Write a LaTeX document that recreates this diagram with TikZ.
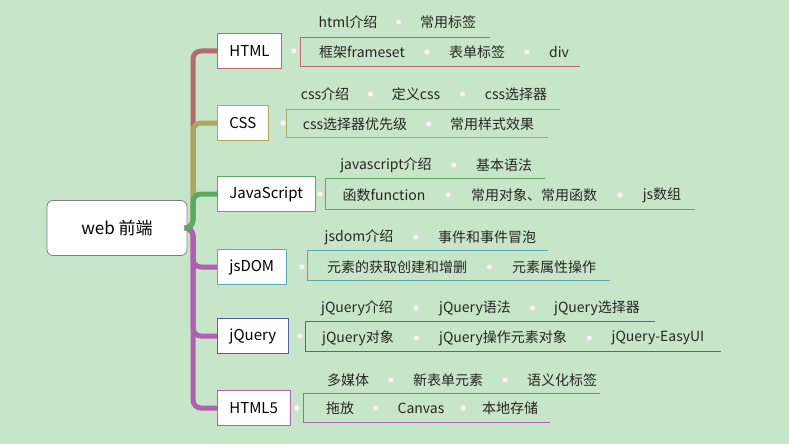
\documentclass[tikz,border=0pt]{standalone}
\usepackage{fontspec}
\setmainfont{Noto Sans CJK SC}
\usetikzlibrary{positioning, calc}
\definecolor{bgc}{HTML}{C7E5C8}
\definecolor{cHtml}{HTML}{B86A6A}
\definecolor{cCss}{HTML}{ABA860}
\definecolor{cJs}{HTML}{5AAA62}
\definecolor{cDom}{HTML}{5AABAA}
\definecolor{cJq}{HTML}{5A5EA8}
\definecolor{cH5}{HTML}{B060B0}
\begin{document}
\begin{tikzpicture}[x=1pt,y=-1pt]

            % Стили
            \tikzstyle{topic} = [rectangle, draw, thick, fill=white, minimum height=35pt,
                                 inner xsep=12pt, font=\fontsize{15}{17}\selectfont, anchor=west]
            \tikzstyle{item} = [font=\fontsize{14}{16}\selectfont, text=black!85, inner sep=1pt]
            \tikzstyle{branch} = [line width=5pt, rounded corners=8pt]
            \tikzstyle{dot} = [circle, fill=gray!8!white, draw=gray!30, inner sep=0pt, minimum size=6pt]
            \newcommand{\gap}[2]{\node[dot] at ($(#1.east)!0.5!(#2.west)$) {};}

            % Фон
            \fill[bgc] (0,0) rectangle (789,444);
            \useasboundingbox (0,0) rectangle (789,444);

            % Корень
            \node[rectangle, draw=gray, thick, fill=white, rounded corners=6pt,
                  minimum width=140pt, minimum height=55pt, font=\fontsize{17}{19}\selectfont]
                  (root) at (117,228) {web 前端};

            % Темы
            \node[topic, draw=cHtml] (html) at (217,51) {HTML};
            \node[topic, draw=cCss] (css) at (217,123) {CSS};
            \node[topic, draw=cJs] (js) at (217,194) {JavaScript};
            \node[topic, draw=cDom] (dom) at (217,267) {jsDOM};
            \node[topic, draw=cJq] (jq) at (217,336) {jQuery};
            \node[topic, draw=cH5] (h5) at (217,408) {HTML5};

            % Ветви
            \draw[branch, cH5] (root.east) -- (193,228) |- (h5.west);
            \draw[branch, cH5] (root.east) -- (193,228) |- (jq.west);
            \draw[branch, cH5] (root.east) -- (193,228) |- (dom.west);
            \draw[branch, cHtml] (root.east) -- (193,228) |- (html.west);
            \draw[branch, cCss] (root.east) -- (193,228) |- (css.west);
            \draw[branch, cJs] (root.east) -- (193,228) |- (js.west);

            % HTML
            \coordinate (htmlA) at (300,37);
            \coordinate (htmlB) at (300,66);
            \draw[cHtml, thick] (490,37) -- (htmlA) -- (htmlB) -- (580,66);
            \node[dot] at (294,51) {};
            \node[item] (h1) at (348,22) {html介绍};
            \node[item] (h2) at (448,22) {常用标签};
            \node[item] (h3) at (362,52) {框架frameset};
            \node[item] (h4) at (477,52) {表单标签};
            \node[item] (h5t) at (559,52) {div};
            \gap{h1}{h2} \gap{h3}{h4} \gap{h4}{h5t}

            % CSS
            \coordinate (cssA) at (286,109);
            \coordinate (cssB) at (286,137);
            \draw[cCss, thick] (560,109) -- (cssA) -- (cssB) -- (548,137);
            \node[dot] at (283,123) {};
            \node[item] (c1) at (325,94) {css介绍};
            \node[item] (c2) at (416,94) {定义css};
            \node[item] (c3) at (516,94) {css选择器};
            \node[item] (c4) at (355,124) {css选择器优先级};
            \node[item] (c5) at (492,124) {常用样式效果};
            \gap{c1}{c2} \gap{c2}{c3} \gap{c4}{c5}

            % JavaScript
            \coordinate (jsA) at (325,178);
            \coordinate (jsB) at (325,209);
            \draw[cJs, thick] (545,178) -- (jsA) -- (jsB) -- (695,209);
            \node[dot] at (320,194) {};
            \node[item] (j1) at (386,165) {javascript介绍};
            \node[item] (j2) at (504,165) {基本语法};
            \node[item] (j3) at (384,195) {函数function};
            \node[item] (j4) at (534,195) {常用对象、常用函数};
            \node[item] (j5) at (662,195) {js数组};
            \gap{j1}{j2} \gap{j3}{j4} \gap{j4}{j5}

            % jsDOM
            \coordinate (domA) at (307,250);
            \coordinate (domB) at (307,280);
            \draw[cDom, thick] (548,250) -- (domA) -- (domB) -- (610,280);
            \node[dot] at (302,267) {};
            \node[item] (d1) at (359,237) {jsdom介绍};
            \node[item] (d2) at (487,237) {事件和事件冒泡};
            \node[item] (d3) at (397,267) {元素的获取创建和增删};
            \node[item] (d4) at (554,267) {元素属性操作};
            \gap{d1}{d2} \gap{d3}{d4}

            % jQuery
            \coordinate (jqA) at (305,321);
            \coordinate (jqB) at (305,351);
            \draw[cJq, thick] (655,321) -- (jqA) -- (jqB) -- (721,351);
            \node[dot] at (300,336) {};
            \node[item] (q1) at (357,308) {jQuery介绍};
            \node[item] (q2) at (475,308) {jQuery语法};
            \node[item] (q3) at (597,308) {jQuery选择器};
            \node[item] (q4) at (358,338) {jQuery对象};
            \node[item] (q5) at (503,338) {jQuery操作元素对象};
            \node[item] (q6) at (658,338) {jQuery-EasyUI};
            \gap{q1}{q2} \gap{q2}{q3} \gap{q4}{q5} \gap{q5}{q6}

            % HTML5
            \coordinate (hfA) at (303,393);
            \coordinate (hfB) at (303,422);
            \draw[cH5, thick] (600,393) -- (hfA) -- (hfB) -- (550,422);
            \node[dot] at (297,408) {};
            \node[item] (f1) at (348,380) {多媒体};
            \node[item] (f2) at (448,380) {新表单元素};
            \node[item] (f3) at (562,380) {语义化标签};
            \node[item] (f4) at (340,408) {拖放};
            \node[item] (f5) at (421,408) {Canvas};
            \node[item] (f6) at (510,408) {本地存储};
            \gap{f1}{f2} \gap{f2}{f3} \gap{f4}{f5} \gap{f5}{f6}

\end{tikzpicture}
\end{document}
